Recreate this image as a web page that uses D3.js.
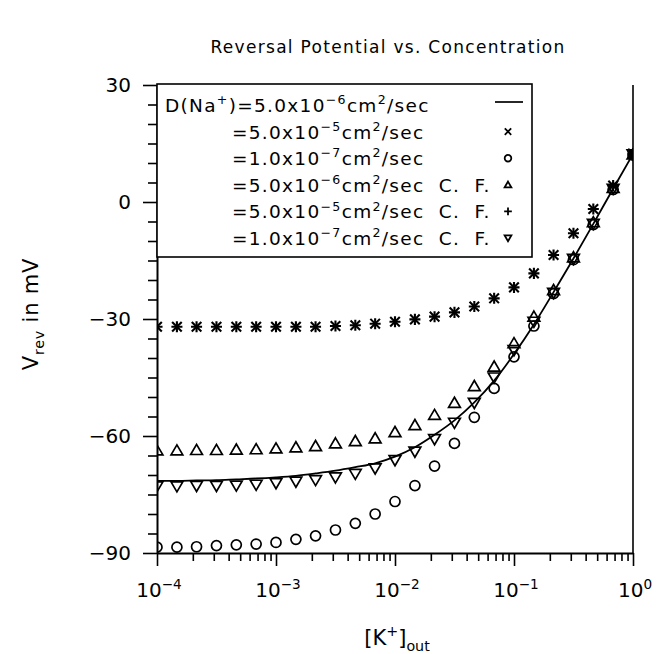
<!DOCTYPE html>
<html>
<head>
<meta charset="utf-8">
<script src="https://cdn.jsdelivr.net/npm/d3@7"></script>
<style>
  body { margin: 0; background: #fff; }
  svg { display: block; }
  text { font-family: "DejaVu Sans", sans-serif; fill: #000; }
</style>
</head>
<body>
<svg id="chart" width="664" height="654"></svg>
<script>
// [K+]out concentrations (1/6 decade steps)
const conc = [1.0e-4, 1.47e-4, 2.15e-4, 3.16e-4, 4.64e-4, 6.81e-4,
  1.0e-3, 1.47e-3, 2.15e-3, 3.16e-3, 4.64e-3, 6.81e-3,
  1.0e-2, 1.47e-2, 2.15e-2, 3.16e-2, 4.64e-2, 6.81e-2,
  0.1, 0.147, 0.215, 0.316, 0.464, 0.681, 1.0];

// D(Na+) = 5.0e-6 (solid line)
const line5e6 = [-71.5, -71.5, -71.4, -71.3, -71.1, -70.9, -70.6, -70.2, -69.6, -68.9,
  -68.0, -67.0, -65.3, -62.9, -59.7, -56.0, -51.4, -45.8, -39.0, -31.4, -23.1, -14.5, -5.6, 3.4, 12.3];
// D(Na+) = 5.0e-5 (x)
const cross5e5 = [-32.0, -32.0, -32.0, -32.0, -32.0, -32.0, -32.0, -32.0, -32.0, -31.8,
  -31.6, -31.2, -30.7, -30.1, -29.4, -28.3, -26.8, -24.7, -21.9, -18.3, -13.6, -8.0, -1.8, 4.2, 12.4];
// D(Na+) = 1.0e-7 (o)
const circle1e7 = [-88.5, -88.5, -88.4, -88.1, -87.9, -87.7, -87.3, -86.5, -85.6, -84.1,
  -82.4, -80.0, -76.8, -72.7, -67.7, -61.9, -55.2, -47.8, -39.7, -31.8, -23.5, -14.8, -5.8, 3.2, 12.0];
// 5.0e-6 C. F. (triangle up)
const tri5e6cf = [-63.7, -63.7, -63.6, -63.6, -63.5, -63.4, -63.2, -62.9, -62.6, -61.9,
  -61.3, -60.6, -59.0, -57.2, -54.6, -51.5, -47.2, -42.2, -36.2, -29.4, -22.6, -14.2, -5.2, 3.6, 12.2];
// 5.0e-5 C. F. (+)
const plus5e5cf = [-32.0, -32.0, -32.0, -32.0, -32.0, -32.0, -32.0, -32.0, -32.0, -31.8,
  -31.6, -31.2, -30.7, -30.1, -29.4, -28.3, -26.8, -24.7, -21.9, -18.3, -13.6, -8.0, -1.8, 4.2, 12.4];
// 1.0e-7 C. F. (triangle down)
const tridn1e7cf = [-72.9, -72.9, -72.8, -72.8, -72.7, -72.5, -72.1, -71.7, -71.3, -70.6,
  -69.7, -68.3, -66.2, -64.0, -60.8, -56.6, -51.5, -45.0, -38.0, -30.7, -23.3, -14.6, -5.6, 3.4, 12.2];

const xMajor = [1e-4, 1e-3, 1e-2, 1e-1, 1];
const xExp = ['−4', '−3', '−2', '−1', '0'];
const yMajor = [-90, -60, -30, 0, 30];

const CF = '/sec\u00a0 C.\u00a0 F.';
const legendRows = [
  [['D(Na', ''], ['+', 'sup'], [')=5.0x10', ''], ['−6', 'sup'], ['cm', ''], ['2', 'sup'], ['/sec', '']],
  [['=5.0x10', ''], ['−5', 'sup'], ['cm', ''], ['2', 'sup'], ['/sec', '']],
  [['=1.0x10', ''], ['−7', 'sup'], ['cm', ''], ['2', 'sup'], ['/sec', '']],
  [['=5.0x10', ''], ['−6', 'sup'], ['cm', ''], ['2', 'sup'], [CF, '']],
  [['=5.0x10', ''], ['−5', 'sup'], ['cm', ''], ['2', 'sup'], [CF, '']],
  [['=1.0x10', ''], ['−7', 'sup'], ['cm', ''], ['2', 'sup'], [CF, '']]
];
const legendKeys = ['line', 'cross', 'circle', 'up', 'plus', 'down'];

const svg = d3.select('#chart');
const pLeft = 157, pRight = 633, pTop = 85, pBottom = 553;

const x = d3.scaleLog().domain([1e-4, 1]).range([pLeft, pRight]);
const y = d3.scaleLinear().domain([-90, 30]).range([pBottom, pTop]);

// symbols, drawn around 0,0
function marker(g, kind, s, w) {
  let el;
  if (kind === 'circle') {
    el = g.append('circle').attr('r', s);
  } else if (kind === 'up') {
    el = g.append('path').attr('d', `M0,${-s}L${s * 1.05},${s * 0.8}L${-s * 1.05},${s * 0.8}Z`);
  } else if (kind === 'down') {
    el = g.append('path').attr('d', `M0,${s}L${s * 1.05},${-s * 0.8}L${-s * 1.05},${-s * 0.8}Z`);
  } else if (kind === 'cross') {
    el = g.append('path').attr('d', `M${-s},${-s}L${s},${s}M${-s},${s}L${s},${-s}`);
  } else if (kind === 'plus') {
    el = g.append('path').attr('d', `M${-s * 1.2},0L${s * 1.2},0M0,${-s * 1.2}L0,${s * 1.2}`);
  }
  el.attr('fill', 'none').attr('stroke', '#000').attr('stroke-width', w || 1.7);
  return el;
}

function richText(t, parts, size) {
  let off = 0;
  parts.forEach(([str, kind]) => {
    const target = kind === 'sup' ? -0.42 * size : kind === 'sub' ? 0.3 * size : 0;
    t.append('tspan')
      .attr('dy', target - off)
      .attr('font-size', kind ? size * 0.68 : size)
      .text(str);
    off = target;
  });
}

// title
svg.append('text')
  .attr('x', 388).attr('y', 53)
  .attr('text-anchor', 'middle')
  .attr('font-size', 17)
  .attr('letter-spacing', 1.3)
  .text('Reversal Potential vs. Concentration');

svg.append('defs').append('clipPath').attr('id', 'plotclip')
  .append('rect')
  .attr('x', pLeft).attr('y', pTop)
  .attr('width', pRight - pLeft).attr('height', pBottom - pTop);

// data
const plot = svg.append('g').attr('clip-path', 'url(#plotclip)');
const lineGen = d3.line().x((d, i) => x(conc[i])).y(d => y(d)).curve(d3.curveMonotoneX);
plot.append('path')
  .datum(line5e6)
  .attr('d', lineGen)
  .attr('fill', 'none')
  .attr('stroke', '#000')
  .attr('stroke-width', 1.8);

const series = [
  { key: 'circle', data: circle1e7, s: 5 },
  { key: 'up', data: tri5e6cf, s: 5.6 },
  { key: 'down', data: tridn1e7cf, s: 5.6 },
  { key: 'cross', data: cross5e5, s: 4.8, w: 2.1 },
  { key: 'plus', data: plus5e5cf, s: 4.6, w: 2.1 }
];
series.forEach(sr => {
  sr.data.forEach((v, i) => {
    const g = plot.append('g').attr('transform', `translate(${x(conc[i])},${y(v)})`);
    marker(g, sr.key, sr.s, sr.w);
  });
});

// right frame line
svg.append('line')
  .attr('x1', pRight).attr('x2', pRight)
  .attr('y1', pTop).attr('y2', pBottom)
  .attr('stroke', '#000').attr('stroke-width', 1.6);

// y axis
const yMinor = d3.range(-90, 31, 5).filter(v => !yMajor.includes(v));
svg.append('g')
  .attr('transform', `translate(${pLeft},0)`)
  .call(d3.axisLeft(y).tickValues(yMinor).tickSize(9).tickSizeOuter(0).tickFormat(''))
  .call(g => g.select('.domain').remove());
const yAx = svg.append('g')
  .attr('transform', `translate(${pLeft},0)`)
  .call(d3.axisLeft(y).tickValues(yMajor).tickSize(14).tickSizeOuter(0).tickPadding(12));
yAx.selectAll('text').attr('font-size', 20).attr('font-family', '"DejaVu Sans", sans-serif');
yAx.select('.domain').attr('stroke-width', 2);

// x axis
const xMinor = [];
xMajor.slice(0, -1).forEach(d => {
  for (let m = 2; m <= 9; m++) xMinor.push(d * m);
});
const xMin = svg.append('g')
  .attr('transform', `translate(0,${pBottom})`)
  .call(d3.axisBottom(x).tickValues(xMinor).tickSize(8).tickSizeOuter(0).tickFormat(''));
xMin.select('.domain').remove();
const xAx = svg.append('g')
  .attr('transform', `translate(0,${pBottom})`)
  .call(d3.axisBottom(x).tickValues(xMajor).tickSize(13).tickSizeOuter(0).tickFormat(''));
xAx.select('.domain').attr('stroke-width', 2);
svg.selectAll('.tick line').attr('stroke-width', 1.6);

xMajor.forEach((d, i) => {
  const t = svg.append('text')
    .attr('x', x(d) + 2).attr('y', 597)
    .attr('text-anchor', 'middle');
  richText(t, [['10', ''], [xExp[i], 'sup']], 20);
});

// axis titles
const xl = svg.append('text')
  .attr('x', 397).attr('y', 645)
  .attr('text-anchor', 'middle');
richText(xl, [['[K', ''], ['+', 'sup'], [']', ''], ['out', 'sub']], 21);

const yl = svg.append('text')
  .attr('transform', 'translate(38,314) rotate(-90)')
  .attr('text-anchor', 'middle')
  .attr('letter-spacing', 0.8);
richText(yl, [['V', ''], ['rev', 'sub'], [' in mV', '']], 21);

// legend
svg.append('rect')
  .attr('x', pLeft).attr('y', 84)
  .attr('width', 375).attr('height', 173)
  .attr('fill', '#fff')
  .attr('stroke', '#000')
  .attr('stroke-width', 1.6);

legendRows.forEach((parts, i) => {
  const base = 112 + i * 26.6;
  const t = svg.append('text')
    .attr('x', i === 0 ? 165 : 232)
    .attr('y', base)
    .attr('letter-spacing', 1.3);
  richText(t, parts, 18.5);
  const key = legendKeys[i];
  if (key === 'line') {
    svg.append('line')
      .attr('x1', 495).attr('x2', 523)
      .attr('y1', base - 10).attr('y2', base - 10)
      .attr('stroke', '#000').attr('stroke-width', 1.7);
  } else {
    const g = svg.append('g').attr('transform', `translate(508,${base - 7})`);
    marker(g, key, key === 'circle' ? 3.3 : 3.2, 1.8);
  }
});
</script>
</body>
</html>
